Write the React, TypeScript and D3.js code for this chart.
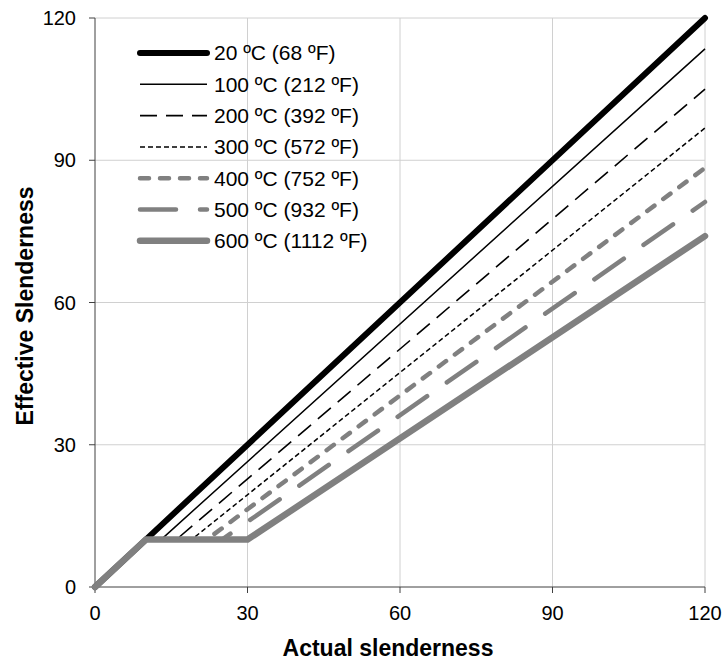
import React from "react";
import * as d3 from "d3";

const seriesNames = ["20 ºC (68 ºF)", "100 ºC (212 ºF)", "200 ºC (392 ºF)", "300 ºC (572 ºF)", "400 ºC (752 ºF)", "500 ºC (932 ºF)", "600 ºC (1112 ºF)"];
const kinkX = [10, 13, 16, 19, 22, 25, 30];
const endY = [120, 113.5, 105, 96.8, 88.4, 81.2, 74];
const xTicks = [0, 30, 60, 90, 120];
const yTicks = [0, 30, 60, 90, 120];

const styles = [
  { color: "#000", width: 6, dash: "", cap: "round" },
  { color: "#000", width: 1.5, dash: "", cap: "butt" },
  { color: "#000", width: 1.6, dash: "17,9", cap: "butt" },
  { color: "#000", width: 1.5, dash: "5,3", cap: "butt" },
  { color: "#808080", width: 4.5, dash: "9,11", cap: "round" },
  { color: "#808080", width: 4.5, dash: "36,24", cap: "round" },
  { color: "#808080", width: 6.5, dash: "", cap: "round" },
];

export default function App() {
  const W = 723, H = 661;
  const x = d3.scaleLinear().domain([0, 120]).range([95, 705]);
  const y = d3.scaleLinear().domain([0, 120]).range([587, 18]);
  const line = d3.line<[number, number]>().x(d => x(d[0])).y(d => y(d[1]));
  const font = "Liberation Sans, Arial, sans-serif";
  return (
    <svg width={W} height={H} style={{ position: "absolute", left: 0, top: 0 }} fontFamily={font}>
      <rect width={W} height={H} fill="#fff" />
      {xTicks.filter(t => t > 0).map(t => (
        <line key={"gx" + t} x1={x(t)} x2={x(t)} y1={y(0)} y2={y(120)} stroke="#d0d0d0" strokeWidth={1} />
      ))}
      {yTicks.filter(t => t > 0).map(t => (
        <line key={"gy" + t} x1={x(0)} x2={x(120)} y1={y(t)} y2={y(t)} stroke="#d0d0d0" strokeWidth={1} />
      ))}
      <line x1={x(0)} x2={x(0)} y1={y(0)} y2={y(120)} stroke="#404040" strokeWidth={1} />
      <line x1={x(0)} x2={x(120)} y1={y(0)} y2={y(0)} stroke="#404040" strokeWidth={1} />
      {yTicks.map(t => (
        <g key={"ty" + t}>
          <line x1={x(0) - 6} x2={x(0)} y1={y(t)} y2={y(t)} stroke="#404040" />
          <text x={76} y={y(t)} dy="0.35em" textAnchor="end" fontSize={20} fill="#000">{t}</text>
        </g>
      ))}
      {xTicks.map(t => (
        <g key={"tx" + t}>
          <line x1={x(t)} x2={x(t)} y1={y(0)} y2={y(0) + 6} stroke="#404040" />
          <text x={x(t)} y={620} textAnchor="middle" fontSize={20} fill="#000">{t}</text>
        </g>
      ))}
      <text x={388} y={656} textAnchor="middle" fontSize={23} fontWeight="bold">Actual slenderness</text>
      <text transform="translate(33,306) rotate(-90)" textAnchor="middle" fontSize={23} fontWeight="bold">Effective Slenderness</text>
      {seriesNames.map((n, i) => {
        const pts: [number, number][] = [[0, 0], [10, 10], [kinkX[i], 10], [120, endY[i]]];
        const s = styles[i];
        return (
          <path key={"s" + i} d={line(pts) || ""} fill="none" stroke={s.color} strokeWidth={s.width}
            strokeDasharray={s.dash || undefined} strokeLinecap={s.cap as any} strokeLinejoin="round" />
        );
      })}
      {seriesNames.map((n, i) => {
        const s = styles[i];
        const ly = 53 + i * 31.3;
        return (
          <g key={"l" + i}>
            <line x1={140} x2={207} y1={ly} y2={ly} stroke={s.color} strokeWidth={s.width}
              strokeDasharray={s.dash || undefined} strokeLinecap={s.cap as any} />
            <text x={214} y={ly} dy="0.35em" fontSize={21} fill="#000">{n}</text>
          </g>
        );
      })}
    </svg>
  );
}
